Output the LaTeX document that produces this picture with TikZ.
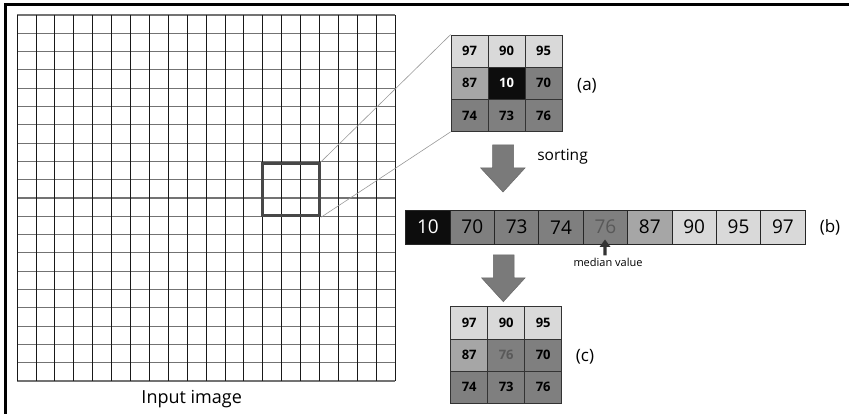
\documentclass[tikz,border=0pt]{standalone}
\usepackage{fontspec}
\setmainfont{Open Sans}
\usetikzlibrary{arrows.meta}
\definecolor{lightc}{HTML}{D9D9D9}
\definecolor{midc}{HTML}{A6A6A6}
\definecolor{darkc}{HTML}{7F7F7F}
\definecolor{blackc}{HTML}{0D0D0D}
\definecolor{medtxt}{HTML}{595959}
\definecolor{arrowc}{HTML}{7A7A7A}
\tikzset{
  cellA/.style={draw=black!80, line width=0.7pt, minimum width=37pt, minimum height=32.2pt, inner sep=0pt, font=\bfseries\fontsize{13}{15}\selectfont},
  cellB/.style={draw=black!85, line width=0.8pt, minimum width=44.37pt, minimum height=34.3pt, inner sep=0pt, font=\fontsize{19}{21}\selectfont},
  lbl/.style={font=\fontsize{17}{19}\selectfont, inner sep=0pt},
  bigarrow/.style={fill=arrowc, draw=black!60, line width=0.5pt},
  zoomline/.style={draw=black!40, line width=0.6pt}
}
\begin{document}
\begin{tikzpicture}[x=1pt,y=-1pt]
\useasboundingbox (0,0) rectangle (849,414);
% outer border (top and left only)
\draw[line width=2.8pt] (5.7,414) -- (5.7,4.3) -- (849,4.3);
% input grid
\foreach \i in {0,...,20} {
  \draw[black!55, line width=1.1pt] (17,{15+\i*18.3}) -- (395,{15+\i*18.3});
}
\foreach \i in {0,...,20} {
  \draw[black!90, line width=0.8pt] ({17+\i*18.9},15) -- ({17+\i*18.9},381);
}
% highlight box
\node[draw=black!72, line width=3pt, minimum width=56.7pt, minimum height=52.5pt, inner sep=0pt] (hl) at (291.2,189.5) {};
\node[font=\fontsize{18}{20}\selectfont, inner sep=0pt] (inp) at (191.7,399) {Input image};
% grid (a)
\def\ax{469.5}\def\ay{51}
\node[cellA, fill=lightc] (a11) at (\ax,\ay) {97};
\node[cellA, fill=lightc] (a12) at (\ax+37,\ay) {90};
\node[cellA, fill=lightc] (a13) at (\ax+74,\ay) {95};
\node[cellA, fill=midc] (a21) at (\ax,\ay+32.2) {87};
\node[cellA, fill=blackc, text=white] (a22) at (\ax+37,\ay+32.2) {10};
\node[cellA, fill=darkc] (a23) at (\ax+74,\ay+32.2) {70};
\node[cellA, fill=darkc] (a31) at (\ax,\ay+64.4) {74};
\node[cellA, fill=darkc] (a32) at (\ax+37,\ay+64.4) {73};
\node[cellA, fill=darkc] (a33) at (\ax+74,\ay+64.4) {76};
\node[lbl] (la) at (587,86) {(a)};
% zoom lines
\draw[zoomline] (hl.north east) -- (a11.north west);
\draw[zoomline] (hl.south east) -- (a31.south west);
% sorting arrow
\draw[bigarrow] (492.5,145) -- (513.5,145) -- (513.5,168) -- (525,168) -- (503,192) -- (480.7,168) -- (492.5,168) -- cycle;
\node[font=\fontsize{15.5}{17}\selectfont, inner sep=0pt] (sort) at (562.5,157) {sorting};
% row (b)
\def\bx{427.9}\def\by{227.2}
\node[cellB, fill=blackc, text=white] (b1) at (\bx,\by) {10};
\node[cellB, fill=darkc] (b2) at (\bx+44.37,\by) {70};
\node[cellB, fill=darkc] (b3) at (\bx+88.74,\by) {73};
\node[cellB, fill=darkc] (b4) at (\bx+133.11,\by) {74};
\node[cellB, fill=darkc, text=medtxt] (b5) at (\bx+177.48,\by) {76};
\node[cellB, fill=midc] (b6) at (\bx+221.85,\by) {87};
\node[cellB, fill=lightc] (b7) at (\bx+266.22,\by) {90};
\node[cellB, fill=lightc] (b8) at (\bx+310.59,\by) {95};
\node[cellB, fill=lightc] (b9) at (\bx+354.96,\by) {97};
\node[lbl] (lb) at (830,227) {(b)};
% median arrow
\node[font=\fontsize{11}{12}\selectfont, inner sep=0pt] (med) at (608,262.5) {median value};
\fill[black!80] (603.4,255.5) -- (606.6,255.5) -- (606.6,247) -- (610.5,247) -- (605,239.5) -- (599.5,247) -- (603.4,247) -- cycle;
% second arrow
\draw[bigarrow] (493.3,255) -- (514,255) -- (514,278) -- (525,278) -- (503.3,301.7) -- (481.7,278) -- (493.3,278) -- cycle;
% grid (c)
\def\cx{469.2}\def\cy{322.8}
\node[cellA, fill=lightc] (c11) at (\cx,\cy) {97};
\node[cellA, fill=lightc] (c12) at (\cx+37,\cy) {90};
\node[cellA, fill=lightc] (c13) at (\cx+74,\cy) {95};
\node[cellA, fill=midc] (c21) at (\cx,\cy+32.2) {87};
\node[cellA, fill=darkc, text=medtxt] (c22) at (\cx+37,\cy+32.2) {76};
\node[cellA, fill=darkc] (c23) at (\cx+74,\cy+32.2) {70};
\node[cellA, fill=darkc] (c31) at (\cx,\cy+64.4) {74};
\node[cellA, fill=darkc] (c32) at (\cx+37,\cy+64.4) {73};
\node[cellA, fill=darkc] (c33) at (\cx+74,\cy+64.4) {76};
\node[lbl] (lc) at (585,356.5) {(c)};
\end{tikzpicture}
\end{document}
